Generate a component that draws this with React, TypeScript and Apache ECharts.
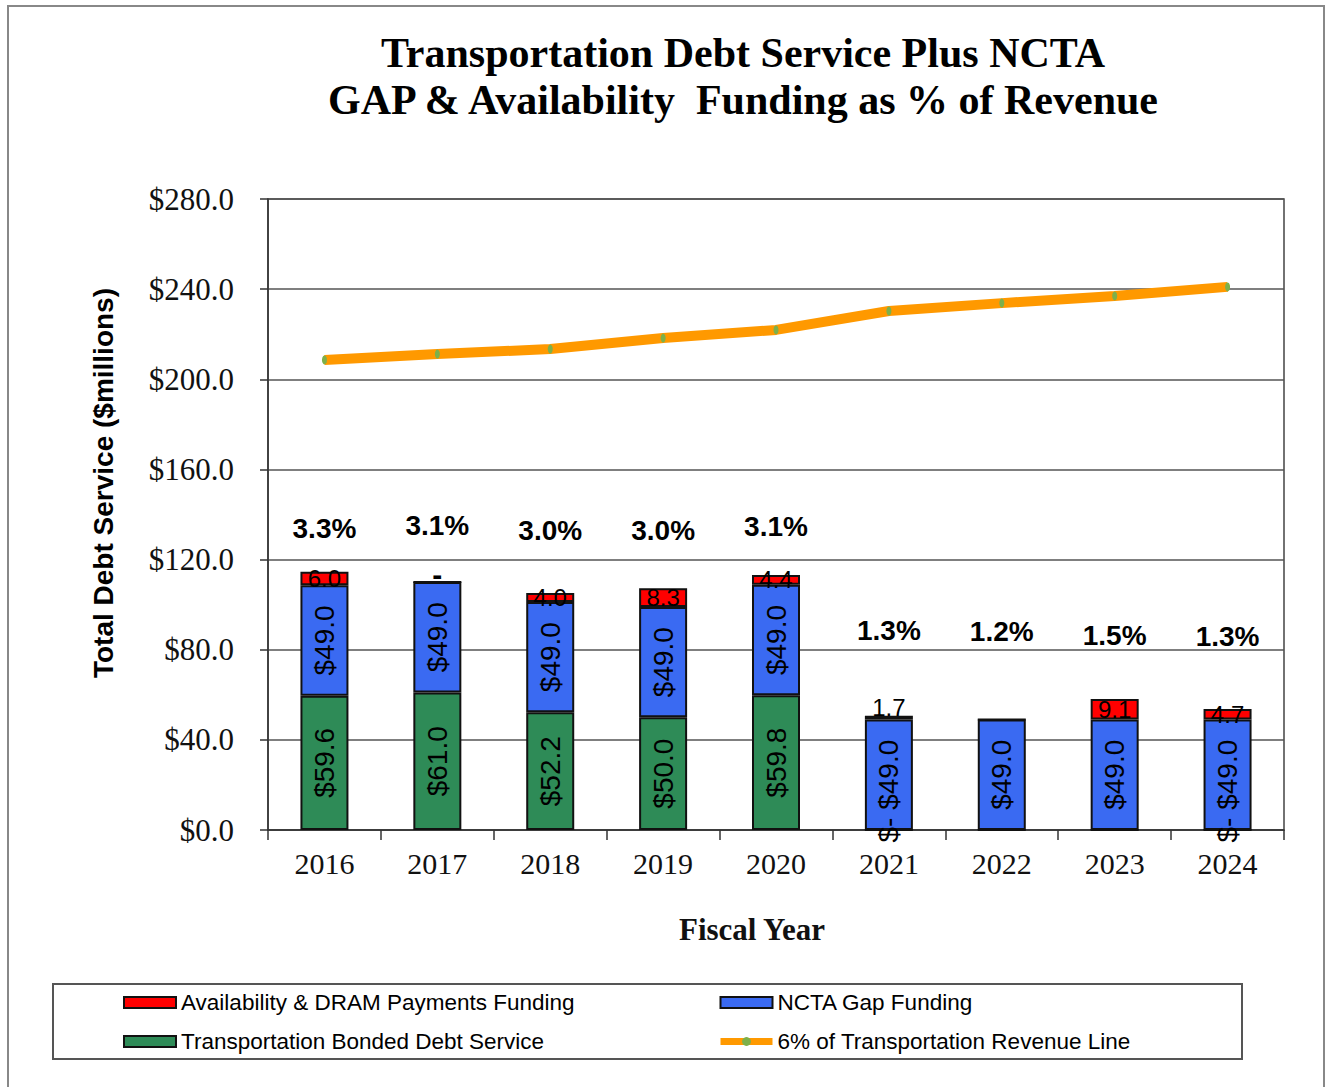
import React, { useEffect, useRef } from "react";
import * as echarts from "echarts";

const years = ["2016", "2017", "2018", "2019", "2020", "2021", "2022", "2023", "2024"];
const bondedDebt = [59.6, 61.0, 52.2, 50.0, 59.8, 0, 0, 0, 0];
const bondedLabels = ["$59.6", "$61.0", "$52.2", "$50.0", "$59.8", "$-", "", "", "$-"];
const gapFunding = [49.0, 49.0, 49.0, 49.0, 49.0, 49.0, 49.0, 49.0, 49.0];
const gapLabels = ["$49.0", "$49.0", "$49.0", "$49.0", "$49.0", "$49.0", "$49.0", "$49.0", "$49.0"];
const availability = [6.0, 0, 4.0, 8.3, 4.4, 1.7, 0, 9.1, 4.7];
const availabilityLabels = ["6.0", "-", "4.0", "8.3", "4.4", "1.7", "", "9.1", "4.7"];
const revenueLine = [208.6, 211.2, 213.4, 218.3, 221.9, 230.3, 233.8, 237.0, 241.0];
const pctLabels = ["3.3%", "3.1%", "3.0%", "3.0%", "3.1%", "1.3%", "1.2%", "1.5%", "1.3%"];
const pctLabelHeight = [134, 135, 133, 133, 134.5, 88.5, 88, 86.5, 86];
const yTicks = { min: 0, max: 280, interval: 40 };

const S_AV = "Availability & DRAM Payments Funding";
const S_GAP = "NCTA Gap Funding";
const S_BOND = "Transportation Bonded Debt Service";
const S_LINE = "6% of Transportation Revenue Line";

export default function App() {
  const ref = useRef<HTMLDivElement>(null);
  useEffect(() => {
    if (!ref.current) return;
    const chart = echarts.init(ref.current, null, { renderer: "svg" });
    const serif = "'Liberation Serif', 'Times New Roman', serif";
    const sans = "'Liberation Sans', Arial, sans-serif";
    const barBorder = { borderColor: "#111", borderWidth: 2 };
    const rotLabel = (labels: string[]) => ({
      show: true,
      position: "inside",
      rotate: 90,
      fontFamily: sans,
      fontSize: 28,
      color: "#000",
      textBorderWidth: 0,
      formatter: (p: any) => labels[p.dataIndex],
    });
    const legendText = { fontFamily: sans, fontSize: 22.5, color: "#000", lineHeight: 22 };
    const availabilityData = availability.map((v, i) => {
      if (v === 0 && availabilityLabels[i]) {
        return { value: v, label: { offset: [0, -8], fontWeight: "bold", fontSize: 30 } };
      }
      if (v > 0 && v < 3) {
        return { value: v, label: { offset: [0, -10] } };
      }
      return v;
    });
    chart.setOption({
      animation: false,
      backgroundColor: "#fff",
      title: {
        text: "Transportation Debt Service Plus NCTA\nGAP & Availability  Funding as % of Revenue",
        left: 738,
        top: 24,
        textAlign: "center",
        textStyle: { fontFamily: serif, fontSize: 42, fontWeight: "bold", color: "#000", lineHeight: 47 },
      },
      grid: { left: 268, right: 41, top: 199, bottom: 257, show: true, borderColor: "#444", borderWidth: 1.5 },
      xAxis: {
        type: "category",
        data: years,
        axisLine: { lineStyle: { color: "#333", width: 1.5 } },
        axisTick: { show: true, length: 10, lineStyle: { color: "#333", width: 1.5 } },
        axisLabel: { fontFamily: serif, fontSize: 30, color: "#111", margin: 18 },
        name: "Fiscal Year",
        nameLocation: "middle",
        nameGap: 84,
        nameTextStyle: {
          fontFamily: serif,
          fontSize: 31,
          fontWeight: "bold",
          color: "#111",
          padding: [0, 48, 0, 0],
        },
      },
      yAxis: {
        type: "value",
        min: yTicks.min,
        max: yTicks.max,
        interval: yTicks.interval,
        axisLine: { show: true, lineStyle: { color: "#333", width: 1.5 } },
        axisTick: { show: true, length: 8, lineStyle: { color: "#333", width: 1.5 } },
        splitLine: { show: true, lineStyle: { color: "#555", width: 1.5 } },
        axisLabel: {
          fontFamily: serif,
          fontSize: 31,
          color: "#111",
          margin: 34,
          formatter: (v: number) => "$" + v.toFixed(1),
        },
      },
      legend: [
        {
          orient: "vertical",
          left: 123,
          top: 991,
          padding: 0,
          itemWidth: 52,
          itemHeight: 11,
          itemGap: 16,
          textStyle: legendText,
          data: [
            { name: S_AV, icon: "rect" },
            { name: S_BOND, icon: "rect" },
          ],
        },
        {
          orient: "vertical",
          left: 717,
          top: 991,
          padding: 0,
          itemWidth: 52,
          itemHeight: 11,
          itemGap: 16,
          textStyle: legendText,
          lineStyle: { width: 7 },
          data: [{ name: S_GAP, icon: "rect" }, { name: S_LINE }],
        },
      ],
      graphic: [
        {
          type: "rect",
          shape: { x: 8, y: 6, width: 1316, height: 1090 },
          style: { fill: "none", stroke: "#888", lineWidth: 2 },
          silent: true,
        },
        {
          type: "rect",
          shape: { x: 53, y: 984, width: 1189, height: 75 },
          style: { fill: "none", stroke: "#555", lineWidth: 2 },
          silent: true,
        },
        {
          type: "text",
          x: 103,
          y: 483,
          rotation: Math.PI / 2,
          style: {
            text: "Total Debt Service ($millions)",
            fontFamily: sans,
            fontSize: 28,
            fontWeight: "bold",
            fill: "#000",
            textAlign: "center",
            textVerticalAlign: "middle",
          },
        },
      ],
      series: [
        {
          name: S_BOND,
          type: "bar",
          stack: "total",
          barWidth: 48,
          data: bondedDebt,
          itemStyle: { color: "#2E8B57", ...barBorder },
          label: rotLabel(bondedLabels),
        },
        {
          name: S_GAP,
          type: "bar",
          stack: "total",
          barWidth: 48,
          data: gapFunding,
          itemStyle: { color: "#3A6AF2", ...barBorder },
          label: rotLabel(gapLabels),
        },
        {
          name: S_AV,
          type: "bar",
          stack: "total",
          barWidth: 48,
          data: availabilityData,
          itemStyle: { color: "#FF0000", ...barBorder },
          label: {
            show: true,
            position: "inside",
            fontFamily: sans,
            fontSize: 24,
            color: "#000",
            textBorderWidth: 0,
            formatter: (p: any) => availabilityLabels[p.dataIndex],
          },
        },
        {
          name: S_LINE,
          type: "line",
          data: revenueLine,
          z: 5,
          lineStyle: { color: "#FF9900", width: 10 },
          itemStyle: { color: "#7DB04A", borderWidth: 0 },
          symbol: "circle",
          symbolSize: [5, 9],
          showSymbol: true,
        },
        {
          name: "pct",
          type: "scatter",
          data: pctLabelHeight,
          symbolSize: 0,
          silent: true,
          itemStyle: { opacity: 1 },
          label: {
            show: true,
            position: "inside",
            fontFamily: sans,
            fontSize: 28,
            fontWeight: "bold",
            color: "#000",
            opacity: 1,
            textBorderWidth: 0,
            formatter: (p: any) => pctLabels[p.dataIndex],
          },
        },
      ],
    });
    return () => chart.dispose();
  }, []);
  return <div ref={ref} style={{ position: "fixed", left: 0, top: 0, width: 1325, height: 1087 }} />;
}
